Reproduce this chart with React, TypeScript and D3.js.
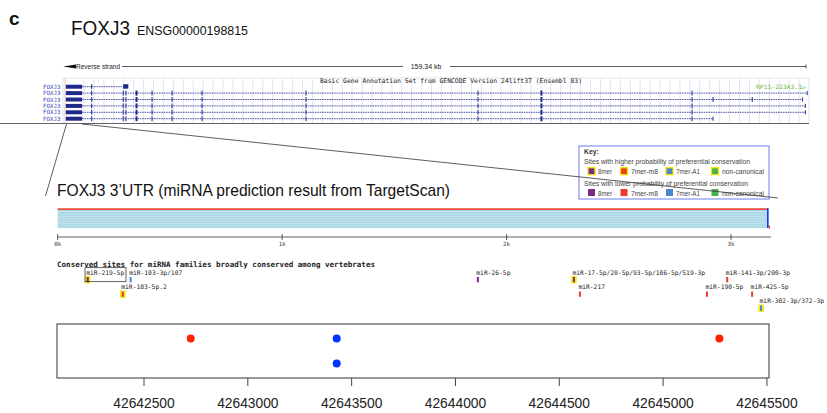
import React from "react";
import * as d3 from "d3";

const W = 827;
const H = 413;

// ---------- gene track data (kb along the 159.34 kb region) ----------
const geneSpanKb = 159.34;
const firstExonKb = [0.6, 4.1];
const sharedExonKb = [6.15, 12.9, 13.5, 15.66, 19.09, 23.38, 29.81, 52.11, 89.0, 102.5, 134.9];
const thickExonKb = [15.66, 102.5];
const transcriptEndKb = [14.0, 159.6, 158.6, 159.2, 159.2, 139.4];
const extraExonKb = [[], [], [139.4, 147.8], [], [], []];
const transcriptNames = ["FOXJ3", "FOXJ3", "FOXJ3", "FOXJ3", "FOXJ3", "FOXJ3"];

// ---------- 3'UTR data ----------
const utrLength = 3165;
const utrAxisEnd = 3178;
const utrTicks = [0, 1000, 2000, 3000];
const utrTickLabels = ["0k", "1k", "2k", "3k"];

const siteNames = [
  "miR-219-5p",
  "miR-103-3p/107",
  "miR-183-5p.2",
  "miR-26-5p",
  "miR-17-5p/20-5p/93-5p/106-5p/519-3p",
  "miR-217",
  "miR-141-3p/200-3p",
  "miR-190-5p",
  "miR-425-5p",
  "miR-302-3p/372-3p",
];
const sitePos = [134, 325, 290, 1872, 2300, 2327, 2983, 2893, 3094, 3134];
const siteRow = [0, 0, 1, 0, 0, 1, 0, 1, 1, 2];
const siteType = ["8mer", "7mer-A1", "7mer-m8", "8mer", "8mer", "7mer-m8", "7mer-m8", "7mer-m8", "7mer-m8", "7mer-A1"];
const siteHigh = [true, false, true, false, true, false, false, false, false, true];

const keyTypes = ["8mer", "7mer-m8", "7mer-A1", "non-canonical"];
const keyColors = ["#7b2a84", "#ee3b2b", "#4a86c8", "#4caf50"];

// ---------- SNP dot plot ----------
const snpPos = [42642725, 42643428, 42643428, 42645271];
const snpLevel = [2, 2, 1, 2];
const snpGroup = ["red", "blue", "blue", "red"];
const genomeTicks = [42642500, 42643000, 42643500, 42644000, 42644500, 42645000, 42645500];

const typeColor = (t: string) => keyColors[keyTypes.indexOf(t)];

export default function App() {
  // scales
  const xg = d3.scaleLinear().domain([0, geneSpanKb]).range([63, 806]);
  const rowY = d3.scaleLinear().domain([0, 5]).range([86.7, 118.7]);
  const xu = d3.scaleLinear().domain([0, 3000]).range([57.7, 731]);
  const siteRowY = d3.scaleLinear().domain([0, 1, 2]).range([279, 293.5, 307.5]);
  const xs = d3.scaleLinear().domain([42642081, 42645510]).range([57, 769]);
  const ys = d3.scaleLinear().domain([0.42, 2.58]).range([378, 324]);

  const navy = "#1e2a8a";
  const mono = "'DejaVu Sans Mono', 'Liberation Mono', monospace";
  const sans = "'Liberation Sans', Arial, sans-serif";

  const gridKb = d3.range(4.5, geneSpanKb, 2.13);
  const stripes = d3.range(211.5, 228, 2.4);

  return (
    <svg
      width={W}
      height={H}
      viewBox={`0 0 ${W} ${H}`}
      style={{ position: "absolute", left: 0, top: 0, background: "#fff" }}
    >
      {/* panel letter and title */}
      <text x={9} y={25} fontFamily={sans} fontWeight="bold" fontSize={19} fill="#111">c</text>
      <text x={71} y={35} fontFamily={sans} fontSize={21} fill="#111" textLength={59} lengthAdjust="spacingAndGlyphs">FOXJ3</text>
      <text x={137} y={35} fontFamily={sans} fontSize={12} fill="#111" textLength={111} lengthAdjust="spacingAndGlyphs">ENSG00000198815</text>

      {/* reverse strand scale bar */}
      <polygon points={`${xg(0)},66.5 ${xg(0) + 13},64.5 ${xg(0) + 13},68.5`} fill="#111" />
      <text x={76} y={69} fontFamily={sans} fontSize={7} fill="#222" textLength={44} lengthAdjust="spacingAndGlyphs">Reverse strand</text>
      <line x1={122} x2={403} y1={66.5} y2={66.5} stroke="#333" strokeWidth={0.8} />
      <text x={426} y={69} fontFamily={sans} fontSize={7} fill="#222" textAnchor="middle">159.34 kb</text>
      <line x1={450} x2={xg(geneSpanKb)} y1={66.5} y2={66.5} stroke="#333" strokeWidth={0.8} />
      <line x1={xg(geneSpanKb)} x2={xg(geneSpanKb)} y1={64.5} y2={68.5} stroke="#333" strokeWidth={0.8} />

      {/* gene annotation box */}
      <rect x={63} y={78} width={746} height={45.5} fill="#fff" stroke="#c8c8c8" strokeWidth={0.5} />
      {gridKb.map((k, i) => (
        <line key={i} x1={xg(k)} x2={xg(k)} y1={78.5} y2={123} stroke="#dcdcf4" strokeWidth={0.8} />
      ))}
      <line x1={65} x2={65} y1={78.5} y2={123} stroke="#f3b5b5" strokeWidth={0.8} />
      <text x={451} y={82.5} fontFamily={mono} fontSize={6.4} fill="#222" textAnchor="middle" textLength={262} lengthAdjust="spacingAndGlyphs">
        Basic Gene Annotation Set from GENCODE Version 24lift37 (Ensembl 83)
      </text>
      <text x={756} y={89} fontFamily={mono} fontSize={6} fill="#5fb832" textLength={50} lengthAdjust="spacingAndGlyphs">RP11-223A3.1▷</text>

      {transcriptEndKb.map((endKb, i) => {
        const y = rowY(i);
        const exons = sharedExonKb.filter((k) => k < endKb - 0.3).concat(extraExonKb[i]);
        return (
          <g key={i}>
            <text x={43} y={y + 2} fontFamily={mono} fontSize={5.8} fill="#3344bb">{transcriptNames[i]}</text>
            <line x1={xg(firstExonKb[1])} x2={xg(endKb)} y1={y} y2={y} stroke={navy} strokeWidth={0.8} strokeDasharray="1.6,0.8" />
            <rect x={xg(firstExonKb[0])} y={y - 2} width={xg(firstExonKb[1]) - xg(firstExonKb[0])} height={4} fill={navy} />
            {i === 0 ? (
              <g>
                <rect x={xg(6.15) - 0.5} y={y - 2.5} width={1} height={5} fill={navy} />
                <rect x={xg(12.9)} y={y - 2.5} width={xg(endKb) - xg(12.9)} height={4.5} fill={navy} />
              </g>
            ) : (
              exons.map((k, j) => (
                <rect key={j} x={xg(k) - 0.5} y={y - 2.5} width={thickExonKb.includes(k) ? 2 : 1} height={5} fill={navy} />
              ))
            )}
            {i > 0 && <rect x={xg(endKb) - 0.5} y={y - 2} width={1} height={4} fill={navy} />}
          </g>
        );
      })}
      <line x1={0} x2={809} y1={123.5} y2={123.5} stroke="#555" strokeWidth={0.9} />

      {/* 3'UTR title */}
      <text x={57} y={196} fontFamily={sans} fontSize={17} fill="#111" textLength={393} lengthAdjust="spacingAndGlyphs">
        FOXJ3 3’UTR (miRNA prediction result from TargetScan)
      </text>

      {/* key box */}
      <rect x={579} y={146} width={190} height={53} fill="#fff" stroke="#6d7cf0" strokeWidth={1} />
      <text x={584} y={154} fontFamily={sans} fontSize={6.8} fontWeight="bold" fill="#333">Key:</text>
      <text x={584} y={163.5} fontFamily={sans} fontSize={6.6} fill="#444" textLength={166} lengthAdjust="spacingAndGlyphs">Sites with higher probability of preferential conservation</text>
      <text x={584} y={186} fontFamily={sans} fontSize={6.6} fill="#444" textLength={164} lengthAdjust="spacingAndGlyphs">Sites with lower probability of preferential conservation</text>
      {keyTypes.map((t, i) => {
        const sx = [588, 620.5, 666, 711.5][i];
        const lx = [598, 631, 676, 722][i];
        const lw = [14, 27, 24, 42][i];
        return (
          <g key={t}>
            <rect x={sx} y={167.7} width={7} height={7} fill={keyColors[i]} stroke="#f2e600" strokeWidth={1.3} />
            <text x={lx} y={174.3} fontFamily={sans} fontSize={7} fill="#444" textLength={lw} lengthAdjust="spacingAndGlyphs">{t}</text>
            <rect x={sx} y={189} width={7} height={7} fill={keyColors[i]} />
            <text x={lx} y={195.5} fontFamily={sans} fontSize={7} fill="#444" textLength={lw} lengthAdjust="spacingAndGlyphs">{t}</text>
          </g>
        );
      })}

      {/* zoom connector lines */}
      <line x1={66.5} y1={124} x2={45.5} y2={196} stroke="#333" strokeWidth={0.8} />
      <line x1={82} y1={124} x2={778} y2={198} stroke="#333" strokeWidth={0.8} />

      {/* UTR bar */}
      <rect x={xu(0)} y={209} width={xu(utrLength) - xu(0)} height={19} fill="#add8e6" />
      {stripes.map((y, i) => (
        <line key={i} x1={xu(0)} x2={xu(utrLength)} y1={y} y2={y} stroke="#fff" strokeOpacity={0.35} strokeWidth={0.7} />
      ))}
      <rect x={xu(0)} y={208.3} width={xu(utrLength) - xu(0)} height={1.6} fill="#ee3b2b" />
      <rect x={xu(utrLength) - 1} y={208.3} width={1.6} height={19.7} fill="#1030ff" />
      <rect x={xu(utrLength) + 0.6} y={225.5} width={1.4} height={3} fill="#ee3b2b" />

      {/* UTR axis */}
      <line x1={xu(0)} x2={xu(utrAxisEnd)} y1={237} y2={237} stroke="#333" strokeWidth={0.8} />
      {utrTicks.map((t, i) => (
        <g key={t}>
          <line x1={xu(t)} x2={xu(t)} y1={234} y2={240} stroke="#333" strokeWidth={0.8} />
          <text x={xu(t)} y={246} fontFamily={mono} fontSize={5.8} fill="#333" textAnchor="middle">{utrTickLabels[i]}</text>
        </g>
      ))}

      {/* conserved sites */}
      <text x={57} y={266.5} fontFamily={mono} fontSize={7.5} fontWeight="bold" fill="#222" textLength={318} lengthAdjust="spacingAndGlyphs">
        Conserved sites for miRNA families broadly conserved among vertebrates
      </text>
      {siteNames.map((name, i) => {
        const x = xu(sitePos[i]);
        const y = siteRowY(siteRow[i]);
        return (
          <g key={name}>
            <text x={x - 1.5} y={y - 4.5} fontFamily={mono} fontSize={6.3} fill="#222">{name}</text>
            {siteHigh[i] && <rect x={x - 2.8} y={y - 3} width={5.6} height={7.5} fill="#f5ea1a" />}
            <rect x={x - 1} y={y - 2} width={2} height={5.3} fill={typeColor(siteType[i])} />
          </g>
        );
      })}
      <rect x={85} y={267.7} width={41} height={14} fill="none" stroke="#222" strokeWidth={0.7} />

      {/* SNP dot plot */}
      <rect x={57} y={324} width={712} height={54} fill="#fff" stroke="#333" strokeWidth={1} />
      {snpPos.map((p, i) => (
        <circle key={i} cx={xs(p)} cy={ys(snpLevel[i])} r={4} fill={snpGroup[i] === "red" ? "#ff2200" : "#0033ff"} />
      ))}
      {genomeTicks.map((t) => (
        <g key={t}>
          <line x1={xs(t)} x2={xs(t)} y1={378} y2={386} stroke="#444" strokeWidth={1} />
          <text x={xs(t)} y={408} fontFamily={sans} fontSize={13.8} fill="#222" textAnchor="middle">{t}</text>
        </g>
      ))}
    </svg>
  );
}
